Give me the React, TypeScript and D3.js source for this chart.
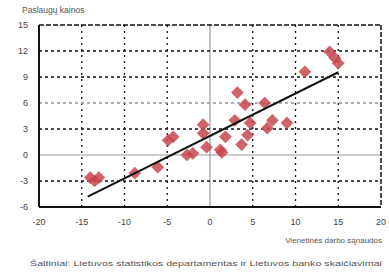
import * as d3 from 'd3'
import React from 'react'

// vienetinės darbo sąnaudos (x) ir paslaugų kainos (y), %
const unitLabourCost = [
  -14, -13, -13.5, -8.8, -6.1, -4.9, -4.3, -2.7, -2.0, -0.8, -0.8, -0.4, 1.2, 1.4, 1.8, 2.9, 3.2, 3.7, 4.1,
  4.4, 4.7, 6.4, 6.7, 7.3, 9.0, 11.1, 14.0, 14.6, 15.0,
]
const servicePrices = [
  -2.6, -2.6, -3.0, -2.1, -1.4, 1.7, 2.1, 0.0, 0.2, 3.5, 2.5, 0.9, 0.6, 0.3, 2.1, 4.0, 7.2, 1.2, 5.8, 2.3,
  3.7, 6.0, 3.1, 4.0, 3.7, 9.6, 11.9, 11.2, 10.6,
]
const trendX = [-14.3, 15]
const trendSlope = 0.49
const trendIntercept = 2.2

const xTicks = [-20, -15, -10, -5, 0, 5, 10, 15, 20]
const yTicks = [-6, -3, 0, 3, 6, 9, 12, 15]

const W = 389
const H = 274

const App = () => {
  const x = d3.scaleLinear().domain([-20, 20]).range([39, 381])
  const y = d3.scaleLinear().domain([-6, 15]).range([207, 25])
  const line = d3
    .line<number>()
    .x((d) => x(d))
    .y((d) => y(trendSlope * d + trendIntercept))

  const font = 'Liberation Sans, Arial, sans-serif'

  return (
    <div style={{ position: 'absolute', left: 0, top: 0 }}>
      <svg width={W} height={H} style={{ display: 'block', background: '#fff' }}>
        <text x={22} y={13} fontSize={8.5} fontFamily={font} fill="#555">
          Paslaugų kainos
        </text>

        {/* grid */}
        {xTicks
          .filter((t) => t !== -20 && t !== 20)
          .map((t) => (
            <line
              key={'gx' + t}
              x1={x(t)}
              x2={x(t)}
              y1={y(15)}
              y2={y(-6)}
              stroke={t === 0 ? '#999' : '#111'}
              strokeWidth={t === 0 ? 1.2 : 1.3}
              strokeDasharray={t === 0 ? undefined : '2,4'}
            />
          ))}
        {yTicks
          .filter((t) => t !== -6 && t !== 15)
          .map((t) => (
            <line
              key={'gy' + t}
              x1={x(-20)}
              x2={x(20)}
              y1={y(t)}
              y2={y(t)}
              stroke={t === 0 ? '#999' : t === 6 ? '#8a94a8' : '#111'}
              strokeWidth={t === 0 ? 1.2 : 1.3}
              strokeDasharray={t === 0 ? undefined : '3,3'}
            />
          ))}

        {/* frame */}
        <line x1={x(-20)} x2={x(20)} y1={y(15)} y2={y(15)} stroke="#111" strokeWidth={1.5} strokeDasharray="5,2" />
        <line x1={x(20)} x2={x(20)} y1={y(15)} y2={y(-6)} stroke="#111" strokeWidth={1.5} strokeDasharray="5,2" />
        <line x1={x(-20)} x2={x(-20)} y1={y(15)} y2={y(-6)} stroke="#111" strokeWidth={2} />
        <line x1={x(-20)} x2={x(20)} y1={y(-6)} y2={y(-6)} stroke="#111" strokeWidth={2} />

        {/* points */}
        {unitLabourCost.map((v, i) => (
          <rect
            key={i}
            x={-4.5}
            y={-4.5}
            width={9}
            height={9}
            fill="#c8464f"
            fillOpacity={0.85}
            transform={`translate(${x(v)},${y(servicePrices[i])}) rotate(45)`}
          />
        ))}

        <path d={line(trendX) || ''} stroke="#111" strokeWidth={2} fill="none" />

        {/* ticks */}
        {yTicks.map((t) => (
          <text key={'ty' + t} x={28} y={y(t) + 3} fontSize={9} fontFamily={font} fill="#444" textAnchor="end">
            {t}
          </text>
        ))}
        {xTicks.map((t) => (
          <text key={'tx' + t} x={x(t)} y={225} fontSize={9} fontFamily={font} fill="#444" textAnchor="middle">
            {t}
          </text>
        ))}

        <text x={382} y={243} fontSize={8} fontFamily={font} fill="#555" textAnchor="end">
          Vienetinės darbo sąnaudos
        </text>
        <text x={30} y={266} fontSize={8} fontFamily={font} fill="#555" textLength={352} lengthAdjust="spacingAndGlyphs">
          Šaltiniai: Lietuvos statistikos departamentas ir Lietuvos banko skaičiavimai
        </text>
      </svg>
    </div>
  )
}

export default App
